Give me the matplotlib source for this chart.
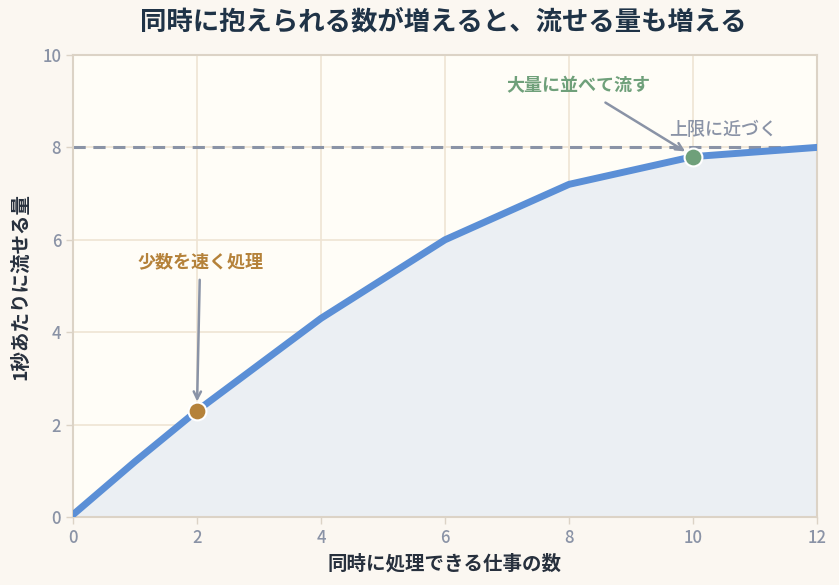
import matplotlib
matplotlib.use("Agg")
import matplotlib.pyplot as plt

plt.rcParams['font.family'] = ['Noto Sans CJK JP', 'DejaVu Sans']

# ─── data ──────────────────────────────────────────────
concurrency = [0, 1, 2, 4, 6, 8, 10, 12]
throughput  = [0.05, 1.2, 2.3, 4.3, 6.0, 7.2, 7.8, 8.0]
limit       = 8.0
x_ticks     = [0, 2, 4, 6, 8, 10, 12]
y_ticks     = [0, 2, 4, 6, 8, 10]

low_pt  = (2, 2.3)
high_pt = (10, 7.8)

TITLE  = "同時に抱えられる数が増えると、流せる量も増える"
XLABEL = "同時に処理できる仕事の数"
YLABEL = "1秒あたりに流せる量"

# ─── colours ───────────────────────────────────────────
BG_FIG  = "#fbf7f1"
BG_AX   = "#fffdf7"
GRID    = "#efe4d4"
SPINE   = "#dcd3c6"
LINE    = "#5b8fd6"
FILL    = "#ebeff3"
MUTED   = "#8a93a6"
ORANGE  = "#b5823a"
GREEN   = "#6fa07a"
DARK    = "#1f3347"

fig = plt.figure(figsize=(8.39, 5.85), dpi=100, facecolor=BG_FIG)
ax = fig.add_axes([73/839, 1 - 517/585, 744/839, 462/585])
ax.set_facecolor(BG_AX)

ax.fill_between(concurrency, throughput, 0, color=FILL, zorder=1)
ax.plot(concurrency, throughput, color=LINE, lw=5, solid_capstyle="round",
        solid_joinstyle="round", zorder=3)
ax.axhline(limit, color=MUTED, lw=2.2, ls=(0, (4, 2.5)), zorder=2)

ax.scatter(*low_pt, s=165, color=ORANGE, edgecolor="white", linewidth=1.5, zorder=5)
ax.scatter(*high_pt, s=165, color=GREEN, edgecolor="white", linewidth=1.5, zorder=5)

ax.annotate("少数を速く処理", xy=(low_pt[0], low_pt[1] + 0.08), xytext=(2.05, 5.52),
            ha="center", va="center", fontsize=13, fontweight="bold", color=ORANGE,
            arrowprops=dict(arrowstyle="->", color=MUTED, lw=1.8,
                            shrinkA=4, shrinkB=4), zorder=6)
ax.annotate("大量に並べて流す", xy=(high_pt[0] - 0.05, high_pt[1] + 0.05), xytext=(8.15, 9.33),
            ha="center", va="center", fontsize=13, fontweight="bold", color=GREEN,
            arrowprops=dict(arrowstyle="->", color=MUTED, lw=1.8,
                            shrinkA=6, shrinkB=4), zorder=6)
ax.text(10.48, 8.38, "上限に近づく", ha="center", va="center", fontsize=13,
        color=MUTED, fontweight="medium", zorder=6)

ax.set_xlim(0, 12)
ax.set_ylim(0, 10)
ax.set_xticks(x_ticks)
ax.set_yticks(y_ticks)
ax.grid(True, color=GRID, lw=1.2, zorder=0)
ax.set_axisbelow(True)
for s in ax.spines.values():
    s.set_color(SPINE)
    s.set_linewidth(1.5)
ax.tick_params(colors=SPINE, labelcolor=MUTED, labelsize=12, length=5, width=1)
for lbl in ax.get_xticklabels() + ax.get_yticklabels():
    lbl.set_fontweight("medium")

ax.set_xlabel(XLABEL, fontsize=14, fontweight="bold", color="#27303d", labelpad=5)
ax.set_ylabel(YLABEL, fontsize=14, fontweight="bold", color="#27303d", labelpad=9)
fig.text(443/839, 1 - 22/585, TITLE, ha="center", va="center",
         fontsize=19, fontweight="bold", color=DARK)

fig.savefig("out.png", dpi=100, facecolor=BG_FIG)
